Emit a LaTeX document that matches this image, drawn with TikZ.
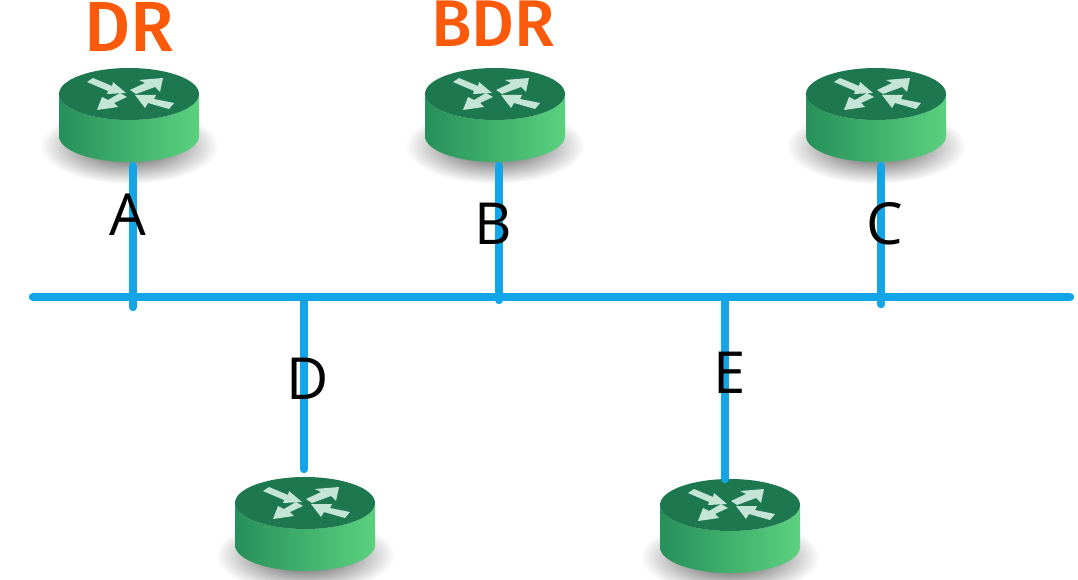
\documentclass[tikz,border=0pt]{standalone}
\usepackage{fontspec}
\setmainfont{Open Sans}
\newfontfamily\headfont[BoldFont={Fira Sans Medium}]{Fira Sans}
\definecolor{busblue}{HTML}{12A5E8}
\definecolor{drorange}{HTML}{FA5A0A}
\definecolor{topgreen}{HTML}{1D7850}
\definecolor{sideleft}{HTML}{27905A}
\definecolor{sidemid}{HTML}{3CA968}
\definecolor{sideright}{HTML}{5BD17F}
\definecolor{arrowpale}{HTML}{C4E4D6}
\tikzset{
  x=1pt,y=-1pt,
  netline/.style={draw=busblue,line width=8.5pt,line cap=round},
  portlabel/.style={font=\fontsize{58}{58}\selectfont,text=black,inner sep=0pt,anchor=base},
  rolelabel/.style={font=\headfont\bfseries\fontsize{#1}{#1}\selectfont,text=drorange,inner sep=0pt,anchor=base},
  router/.pic={
    \shade[inner color=black!75,outer color=white] (0,52) ellipse [x radius=90,y radius=38];
    \shade[left color=sideleft,middle color=sidemid,right color=sideright]
      (-70,0) -- (-70,42) arc[start angle=180,end angle=0,x radius=70,y radius=26] -- (70,0)
      arc[start angle=0,end angle=180,x radius=70,y radius=26] -- cycle;
    \fill[topgreen] (0,0) ellipse [x radius=70,y radius=26];
    \fill[arrowpale] (-42,-12) -- (-36,-16) -- (-17,-8) -- (-16,-12) -- (-3,-1) -- (-22,0) -- (-21,-3) -- cycle;
    \fill[arrowpale] (34,-16) -- (31,-2) -- (26,-7) -- (7,0) -- (1,-4) -- (16,-11) -- (10,-14) -- cycle;
    \fill[arrowpale] (-32,16) -- (-27,3) -- (-21,6) -- (-9,-1) -- (-2,3) -- (-15,9) -- (-11,13) -- cycle;
    \fill[arrowpale] (6,1) -- (27,1) -- (25,5) -- (45,9) -- (40,15) -- (19,9) -- (16,14) -- cycle;
  }
}
\begin{document}
\begin{tikzpicture}
\useasboundingbox[fill=white] (0,0) rectangle (1078,580);
% routers
\pic (dr)  at (129,94)  {router};
\pic (bdr) at (495,94)  {router};
\pic (rc)  at (876,94)  {router};
\pic (rd)  at (305,503) {router};
\pic (re)  at (730,505) {router};
% connector ends
\coordinate (busL) at (33,297);
\coordinate (busR) at (1070,297);
\coordinate (aT) at (133,166);
\coordinate (aB) at (133,307);
\coordinate (bT) at (499,166);
\coordinate (bB) at (499,300);
\coordinate (cT) at (881,166);
\coordinate (cB) at (881,304);
\coordinate (dT) at (304,297);
\coordinate (dB) at (304,469);
\coordinate (eT) at (725,297);
\coordinate (eB) at (725,479);
\draw[netline] (busL) -- (busR);
\draw[netline] (aT) -- (aB);
\draw[netline] (bT) -- (bB);
\draw[netline] (cT) -- (cB);
\draw[netline] (dT) -- (dB);
\draw[netline] (eT) -- (eB);
% labels
\node[portlabel] (la) at (128,235) {A};
\node[portlabel] (lb) at (493,244) {B};
\node[portlabel] (lc) at (885,244) {C};
\node[portlabel] (ld) at (308,399) {D};
\node[portlabel] (le) at (730,393) {E};
\node[rolelabel=71] (ldr)  at (129,52) {DR};
\node[rolelabel=66] (lbdr) at (493,47) {BDR};
\end{tikzpicture}
\end{document}
